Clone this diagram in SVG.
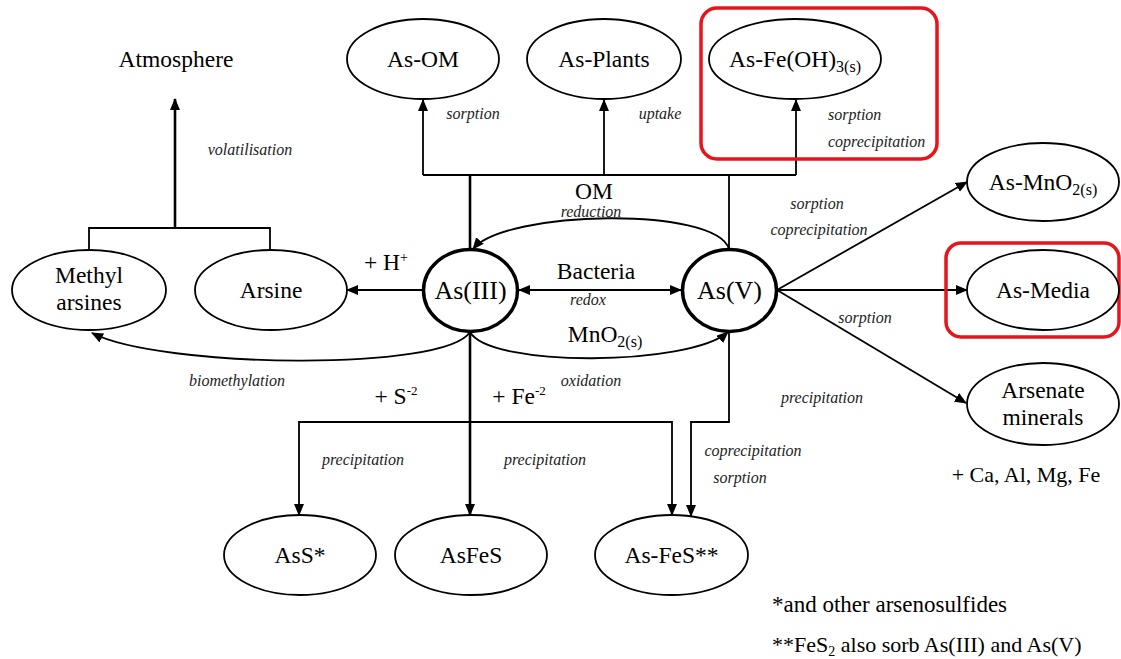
<svg xmlns="http://www.w3.org/2000/svg" width="1121" height="659" viewBox="0 0 1121 659">
<style>
  .bg{fill:#ffffff}
  .node{fill:#ffffff;stroke:#000;stroke-width:1.8}
  .bold{fill:#ffffff;stroke:#000;stroke-width:3.5}
  .t{font-family:'Liberation Serif','Times New Roman',serif;font-size:23.5px;fill:#000;text-anchor:middle}
  .big{font-size:26px}
  .foot{font-size:23px}
  .lab{font-family:'Liberation Serif','Times New Roman',serif;font-size:16px;font-style:italic;fill:#222;text-anchor:middle}
  .start{text-anchor:start}
  .c{fill:none;stroke:#000;stroke-width:1.8}
  .cb{fill:none;stroke:#000;stroke-width:2.6}
  .hl{fill:none;stroke:#e8141b;stroke-width:3.5}
</style>
<defs>
  <marker id="ah" markerUnits="userSpaceOnUse" markerWidth="12" markerHeight="10" refX="11" refY="5" orient="auto-start-reverse">
    <path d="M0,0 L12,5 L0,10 z" fill="#000"/>
  </marker>
</defs>
<rect class="bg" x="0" y="0" width="1121" height="659"/>

<g id="connectors">
  <path class="cb" d="M175,228 V99" marker-end="url(#ah)"/>
  <path class="c" d="M89,250 V228 H270 V250"/>
  <path class="c" d="M423,175 H796"/>
  <path class="c" d="M423,175 V100" marker-end="url(#ah)"/>
  <path class="c" d="M604,175 V100" marker-end="url(#ah)"/>
  <path class="c" d="M796,175 V100" marker-end="url(#ah)"/>
  <path class="cb" d="M470,175 V249"/>
  <path class="c" d="M729,175 V249"/>
  <path class="c" d="M729,249 C716,206 505,210 473,249" marker-end="url(#ah)"/>
  <path class="c" d="M519,290 H681" marker-start="url(#ah)" marker-end="url(#ah)"/>
  <path class="c" d="M423,290 H347" marker-end="url(#ah)"/>
  <path class="c" d="M470,332 C490,368 690,366 728,332" marker-end="url(#ah)"/>
  <path class="c" d="M470,332 C445,372 160,368 92,333" marker-end="url(#ah)"/>
  <path class="cb" d="M470,332 V515" marker-end="url(#ah)"/>
  <path class="c" d="M470,422 H299 V515" marker-end="url(#ah)"/>
  <path class="c" d="M470,422 H672 V515" marker-end="url(#ah)"/>
  <path class="c" d="M729,332 V422 H691 V516" marker-end="url(#ah)"/>
  <path class="c" d="M777,290 L967,182" marker-end="url(#ah)"/>
  <path class="c" d="M777,290 H967" marker-end="url(#ah)"/>
  <path class="c" d="M777,290 L966,403" marker-end="url(#ah)"/>
</g>

<g id="labels">
  <text class="lab" x="250" y="155">volatilisation</text>
  <text class="lab" x="473" y="119">sorption</text>
  <text class="lab" x="660" y="119">uptake</text>
  <text class="lab start" x="828" y="120">sorption</text>
  <text class="lab start" x="828" y="147">coprecipitation</text>
  <text class="t" x="594" y="199">OM</text>
  <text class="lab" x="591" y="217">reduction</text>
  <text class="t" x="596" y="279">Bacteria</text>
  <text class="lab" x="588" y="305">redox</text>
  <text class="t" x="386" y="270">+ H<tspan font-size="14" dy="-8">+</tspan></text>
  <text class="t" x="605" y="342">MnO<tspan font-size="16" dy="5">2(s)</tspan></text>
  <text class="lab" x="591" y="386">oxidation</text>
  <text class="lab" x="237" y="386">biomethylation</text>
  <text class="t" x="396" y="404">+ S<tspan font-size="13" dy="-9">-2</tspan></text>
  <text class="t" x="519" y="404">+ Fe<tspan font-size="13" dy="-9">-2</tspan></text>
  <text class="lab" x="363" y="465">precipitation</text>
  <text class="lab" x="545" y="465">precipitation</text>
  <text class="lab" x="822" y="403">precipitation</text>
  <text class="lab" x="753" y="456">coprecipitation</text>
  <text class="lab" x="740" y="483">sorption</text>
  <text class="lab" x="817" y="209">sorption</text>
  <text class="lab" x="819" y="235">coprecipitation</text>
  <text class="lab" x="865" y="323">sorption</text>
  <text class="t" x="1026" y="482" style="font-size:22px">+ Ca, Al, Mg, Fe</text>
  <text class="t foot start" x="772" y="612">*and other arsenosulfides</text>
  <text class="t foot start" x="772" y="652" style="font-size:22px">**FeS<tspan font-size="14" dy="4">2</tspan><tspan dy="-4"> also sorb As(III) and As(V)</tspan></text>
</g>

<g id="atmosphere">
  <text class="t" x="176" y="67">Atmosphere</text>
</g>
<g id="as-om">
  <ellipse class="node" cx="423" cy="59" rx="76" ry="40"/>
  <text class="t" x="423" y="67">As-OM</text>
</g>
<g id="as-plants">
  <ellipse class="node" cx="604" cy="59" rx="77" ry="40"/>
  <text class="t" x="604" y="67">As-Plants</text>
</g>
<g id="as-feoh3">
  <rect class="hl" x="701" y="8" width="236" height="151" rx="16"/>
  <ellipse class="node" cx="795" cy="59" rx="86" ry="40"/>
  <text class="t" x="795" y="67">As-Fe(OH)<tspan font-size="16" dy="5">3(s)</tspan></text>
</g>
<g id="as-mno2">
  <ellipse class="node" cx="1043" cy="182" rx="76" ry="39"/>
  <text class="t" x="1043" y="190">As-MnO<tspan font-size="16" dy="5">2(s)</tspan></text>
</g>
<g id="as-media">
  <rect class="hl" x="946" y="243" width="173" height="94" rx="15"/>
  <ellipse class="node" cx="1043" cy="290" rx="76" ry="40"/>
  <text class="t" x="1043" y="298">As-Media</text>
</g>
<g id="arsenate-minerals">
  <ellipse class="node" cx="1043" cy="404" rx="76" ry="41"/>
  <text class="t" x="1043" y="398">Arsenate</text>
  <text class="t" x="1043" y="425">minerals</text>
</g>
<g id="methyl-arsines">
  <ellipse class="node" cx="89" cy="290" rx="77" ry="40"/>
  <text class="t" x="89" y="283">Methyl</text>
  <text class="t" x="89" y="310">arsines</text>
</g>
<g id="arsine">
  <ellipse class="node" cx="271" cy="290" rx="76" ry="40"/>
  <text class="t" x="271" y="298">Arsine</text>
</g>
<g id="as-iii">
  <ellipse class="bold" cx="470.5" cy="290.5" rx="47" ry="41"/>
  <text class="t big" x="470.5" y="299">As(III)</text>
</g>
<g id="as-v">
  <ellipse class="bold" cx="729.5" cy="290.5" rx="47" ry="41"/>
  <text class="t big" x="729.5" y="299">As(V)</text>
</g>
<g id="ass">
  <ellipse class="node" cx="300" cy="555" rx="76" ry="40"/>
  <text class="t" x="300" y="563">AsS*</text>
</g>
<g id="asfes">
  <ellipse class="node" cx="471" cy="555" rx="76" ry="40"/>
  <text class="t" x="471" y="563">AsFeS</text>
</g>
<g id="as-fes">
  <ellipse class="node" cx="671.5" cy="555" rx="76.5" ry="40"/>
  <text class="t" x="671.5" y="563">As-FeS**</text>
</g>
</svg>
